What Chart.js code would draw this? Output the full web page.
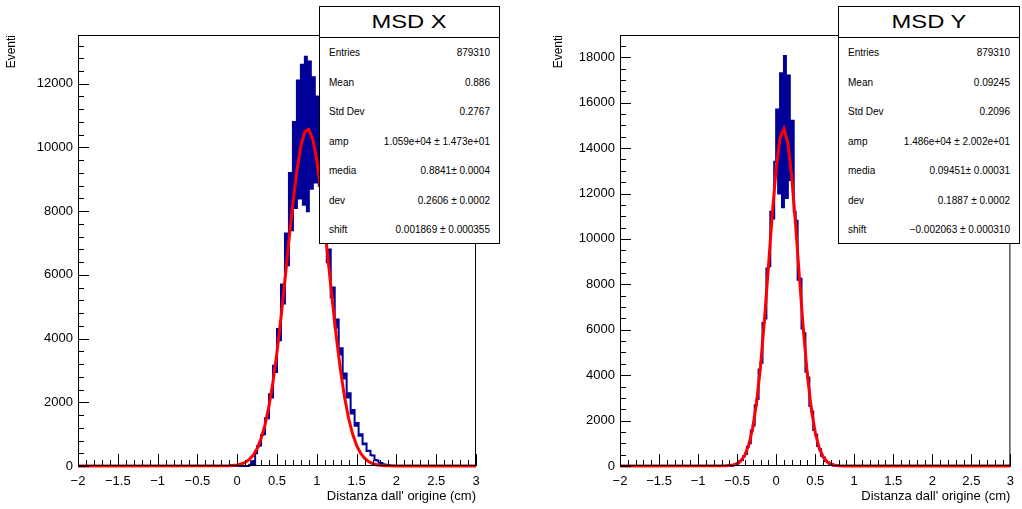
<!DOCTYPE html>
<html>
<head>
<meta charset="utf-8">
<script src="https://cdn.jsdelivr.net/npm/chart.js@4/dist/chart.umd.min.js"></script>
<style>
  html, body { margin: 0; padding: 0; background: #fff; }
  #wrap { position: relative; width: 1022px; height: 509px; font-family: 'Liberation Sans', Arial, sans-serif; }
  .panel { position: absolute; top: 0; width: 511px; height: 509px; }
  .stats { position: absolute; background: #fff; border: 1px solid #000; box-sizing: border-box; }
  .stats .ttl { height: 30px; line-height: 30px; text-align: center; font-size: 19px; border-bottom: 1px solid #000; }
  .stats .ttl span { display: inline-block; transform: scaleX(1.25); }
  .stats .row { display: flex; justify-content: space-between; height: 29.5px; line-height: 29.5px; font-size: 10px; padding: 0 9px 0 9px; }
</style>
</head>
<body>
<div id="wrap">
  <div class="panel" style="left:0"><canvas id="cX"></canvas></div>
  <div class="panel" style="left:511px"><canvas id="cY"></canvas></div>
</div>
<script>
/* axis ticks */
const xTickVals = [-2, -1.5, -1, -0.5, 0, 0.5, 1, 1.5, 2, 2.5, 3];
const yTickValsX = [0, 2000, 4000, 6000, 8000, 10000, 12000];
const yTickValsY = [0, 2000, 4000, 6000, 8000, 10000, 12000, 14000, 16000, 18000];

/* histogram X: bins of 0.025 starting at 0.15 */
const xBinStart = 0.15;
const xBinWidth = 0.025;
const xCounts = [
  40, 150, 60, 400, 620, 640, 970, 1000, 1500, 1500,
  2250, 2150, 3150, 2950, 4300, 3950, 5700, 5100, 7300, 6300,
  9200, 7400, 10800, 8100, 12100, 8400, 12600, 8200, 12850, 8000,
  12700, 8700, 12200, 8900, 11600, 8800, 10200, 7800, 8700, 6400,
  6800, 5300, 5600, 4350, 4600, 3500, 3700, 2750, 2900, 2150,
  2280, 1650, 1760, 1260, 1350, 950, 1000, 680, 710, 470,
  480, 340, 330, 190, 175, 100, 95, 55, 40, 30,
  18, 10, 4
];
/* fit curve X */
const xFitX = [-2, -0.1, 0, 0.05, 0.1, 0.15, 0.2, 0.25, 0.3, 0.35, 0.4, 0.45, 0.5, 0.55, 0.6, 0.65, 0.7, 0.75, 0.8, 0.85,
  0.9, 0.95, 1, 1.05, 1.1, 1.15, 1.2, 1.25, 1.3, 1.35, 1.4, 1.45, 1.5, 1.55, 1.6, 1.65, 1.7, 1.75, 1.8, 1.85, 1.9, 2, 3];
const xFitY = [0, 8, 34, 63, 115, 200, 338, 549, 859, 1297, 1887, 2645, 3575, 4656, 5846, 7074, 8250, 9277, 10050, 10500,
  10570, 10255, 9591, 8643, 7505, 6287, 5073, 3950, 2962, 2141, 1490, 1002, 649, 403, 243, 141, 78, 42, 22, 11, 5, 2, 0];

/* histogram Y: bins of 0.025 starting at -0.55 */
const yBinStart = -0.55;
const yBinWidth = 0.025;
const yCounts = [
  40, 90, 120, 205, 260, 430, 530, 850, 1000, 1560,
  1780, 2680, 2950, 4250, 4550, 6300, 6500, 8700, 8800, 11200,
  10900, 13400, 15700, 12000, 17300, 11400, 18050, 11800, 17200, 12600,
  15200, 11200, 10800, 8200, 8250, 6050, 5850, 4150, 3900, 2650,
  2400, 1580, 1380, 880, 740, 450, 370, 215, 170, 95,
  70, 25, 10
];
/* fit curve Y */
const yFitX = [-2, -0.65, -0.6, -0.55, -0.5, -0.45, -0.4, -0.35, -0.3, -0.25, -0.2, -0.15, -0.1, -0.05, 0, 0.05, 0.1, 0.15,
  0.2, 0.25, 0.3, 0.35, 0.4, 0.45, 0.5, 0.55, 0.6, 0.65, 0.7, 0.75, 0.8, 0.85, 3];
const yFitY = [0, 6, 17, 44, 104, 231, 480, 928, 1671, 2808, 4397, 6420, 8737, 11083, 13109, 14453, 14854, 14232,
  12713, 10581, 8213, 5942, 4007, 2518, 1474, 808, 412, 195, 86, 36, 14, 5, 0];

/* stats boxes */
const statLabels = ['Entries', 'Mean', 'Std Dev', 'amp', 'media', 'dev', 'shift'];
const statsX = ['879310', '0.886', '0.2767', '1.059e+04 \u00b1 1.473e+01', '0.8841\u00b1 0.0004', '0.2606 \u00b1 0.0002', '0.001869 \u00b1 0.000355'];
const statsY = ['879310', '0.09245', '0.2096', '1.486e+04 \u00b1 2.002e+01', '0.09451\u00b1 0.00031', '0.1887 \u00b1 0.0002', '\u22120.002063 \u00b1 0.000310'];

const xTitle = "Distanza dall' origine (cm)";
const yTitle = 'Eventi';

Chart.defaults.font.family = "'Liberation Sans', Arial, sans-serif";
Chart.defaults.color = '#000';

function histPoints(start, width, counts) {
  const pts = [{ x: -2, y: 0 }, { x: start, y: 0 }];
  counts.forEach((c, i) => pts.push({ x: start + i * width, y: c }));
  pts.push({ x: start + counts.length * width, y: 0 });
  pts.push({ x: 3, y: 0 });
  return pts;
}

// ROOT-like frame with ticks pointing inside
const rootFrame = {
  id: 'rootFrame',
  afterDatasetsDraw(chart, args, opts) {
    const { ctx, chartArea: a, scales: { x, y } } = chart;
    ctx.save();
    ctx.strokeStyle = '#000';
    ctx.lineWidth = 1;
    ctx.strokeRect(a.left + 0.5, a.top + 0.5, a.right - a.left - 1, a.bottom - a.top - 1);
    ctx.beginPath();
    for (let i = 0; i <= 50; i++) {
      const px = Math.round(x.getPixelForValue(-2 + i * 0.1)) + 0.5;
      const len = i % 5 === 0 ? 12 : 6;
      ctx.moveTo(px, a.bottom);
      ctx.lineTo(px, a.bottom - len);
    }
    for (let i = 0; i * opts.minor <= y.max; i++) {
      const v = i * opts.minor;
      const py = Math.round(y.getPixelForValue(v)) + 0.5;
      const len = v % 2000 === 0 ? 11 : 6;
      ctx.moveTo(a.left, py);
      ctx.lineTo(a.left + len, py);
    }
    ctx.stroke();
    ctx.restore();
  }
};

function makeChart(id, cfg) {
  new Chart(document.getElementById(id), {
    type: 'line',
    data: {
      datasets: [
        { data: cfg.fitX.map((v, i) => ({ x: v, y: cfg.fitY[i] })), borderColor: '#ff0000', borderWidth: 3,
          pointRadius: 0, tension: 0, order: 0, clip: 4 },
        { data: histPoints(cfg.start, cfg.width, cfg.counts), borderColor: '#000099', borderWidth: 2,
          pointRadius: 0, stepped: 'before', order: 1, clip: 4 }
      ]
    },
    plugins: [rootFrame],
    options: {
      responsive: true,
      maintainAspectRatio: false,
      animation: false,
      layout: { padding: cfg.padding },
      plugins: { legend: { display: false }, tooltip: { enabled: false }, rootFrame: { minor: cfg.minor } },
      scales: {
        x: {
          type: 'linear', min: -2, max: 3,
          grid: { display: false, drawTicks: false },
          border: { display: false },
          afterBuildTicks: s => { s.ticks = xTickVals.map(v => ({ value: v })); },
          ticks: { padding: 8, font: { size: 13 }, maxRotation: 0, autoSkip: false,
            callback: v => String(v).replace('-', '\u2212') },
          title: { display: true, text: xTitle, align: 'end', font: { size: 13 }, padding: { top: 2, bottom: 3 } },
          afterFit: s => { s.height = 41; }
        },
        y: {
          min: 0, max: cfg.yMax,
          grid: { display: false, drawTicks: false },
          border: { display: false },
          afterBuildTicks: s => { s.ticks = cfg.yTicks.map(v => ({ value: v })); },
          ticks: { padding: 5, font: { size: 13 }, autoSkip: false, callback: v => String(v) },
          title: { display: true, text: yTitle, align: 'end', font: { size: 12 }, padding: { top: 4, bottom: 2 } },
          afterFit: s => { s.width = cfg.axisW; }
        }
      }
    }
  });
}

makeChart('cX', { start: xBinStart, width: xBinWidth, counts: xCounts, fitX: xFitX, fitY: xFitY, yTicks: yTickValsX,
  yMax: 13530, minor: 400, axisW: 78, padding: { left: 0, right: 35, top: 35, bottom: 2 } });
makeChart('cY', { start: yBinStart, width: yBinWidth, counts: yCounts, fitX: yFitX, fitY: yFitY, yTicks: yTickValsY,
  yMax: 18980, minor: 500, axisW: 73, padding: { left: 36, right: 7, top: 35, bottom: 2 } });

function statsBox(title, values, left, width) {
  const box = document.createElement('div');
  box.className = 'stats';
  box.style.left = left + 'px';
  box.style.top = '6px';
  box.style.width = width + 'px';
  box.style.height = '238px';
  let html = '<div class="ttl"><span>' + title + '</span></div>';
  statLabels.forEach((l, i) => {
    html += '<div class="row"><span>' + l + '</span><span>' + values[i] + '</span></div>';
  });
  box.innerHTML = html;
  document.getElementById('wrap').appendChild(box);
}
statsBox('MSD X', statsX, 319, 181);
statsBox('MSD Y', statsY, 838, 182);
</script>
</body>
</html>
